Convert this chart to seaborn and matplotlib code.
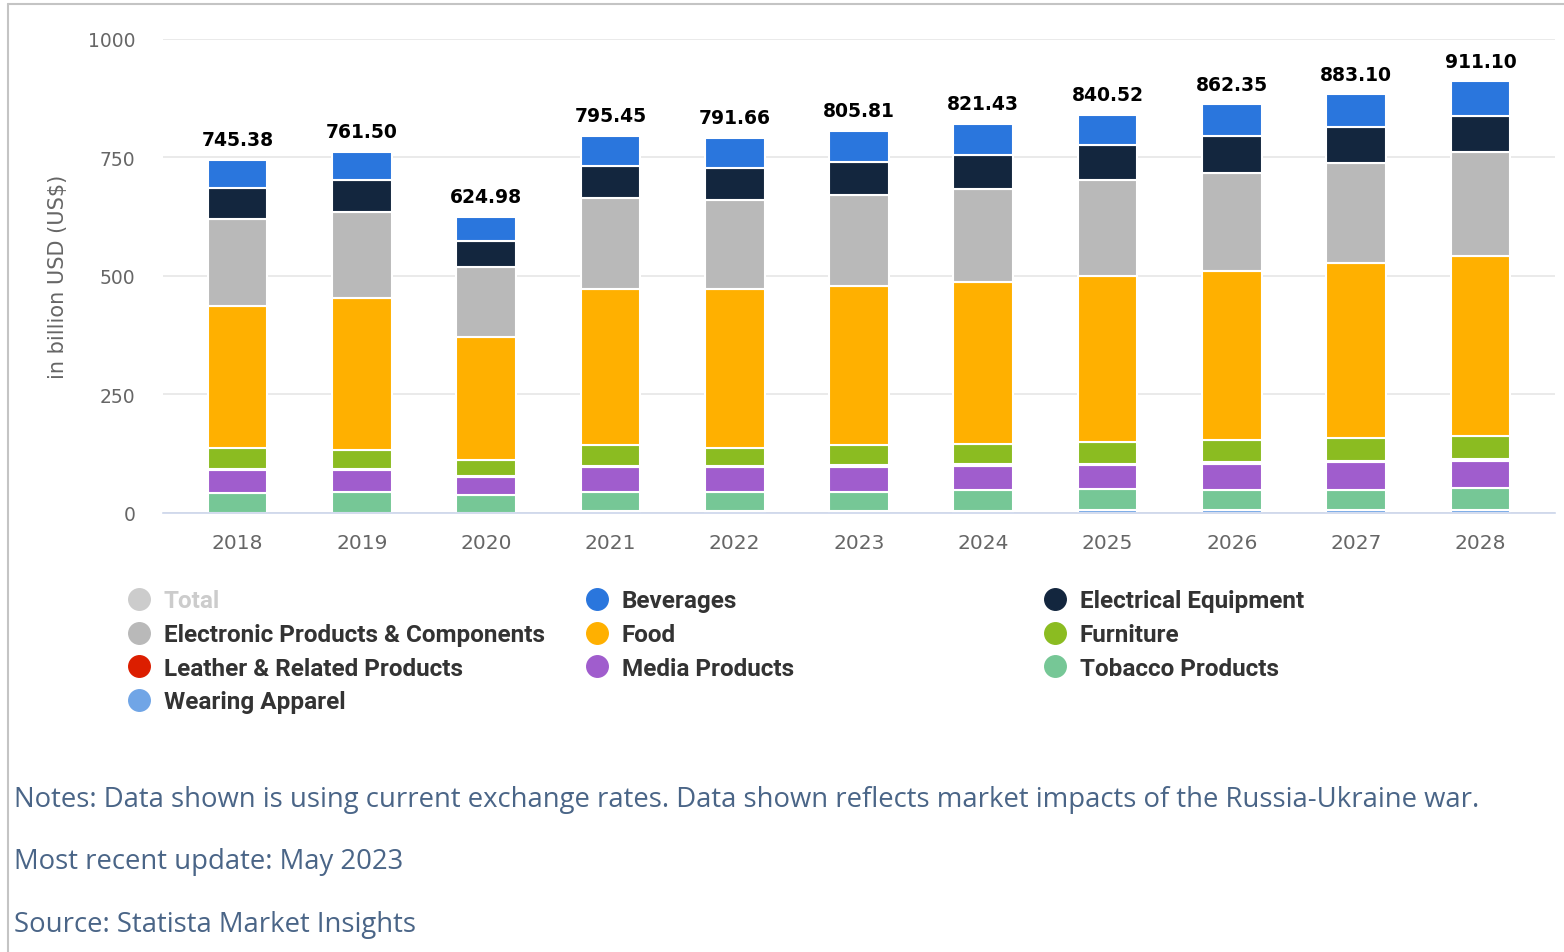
import numpy as np
import pandas as pd
import matplotlib
matplotlib.use("Agg")
import matplotlib.pyplot as plt
import seaborn as sns
from matplotlib.lines import Line2D
from matplotlib import font_manager as fm

# ---- data (billion USD) ----
years = ["2018", "2019", "2020", "2021", "2022", "2023", "2024", "2025", "2026", "2027", "2028"]
total = [745.38, 761.50, 624.98, 795.45, 791.66, 805.81, 821.43, 840.52, 862.35, 883.10, 911.10]

beverages = [59.52, 59.81, 52.13, 62.71, 63.46, 64.87, 65.38, 65.29, 66.83, 68.07, 73.18]
electrical_equipment = [66.41, 66.32, 53.62, 69.54, 68.52, 69.53, 73.74, 72.84, 77.52, 77.34, 77.53]
electronic_products = [182.63, 182.97, 148.94, 190.86, 187.38, 192.14, 194.86, 202.97, 207.64, 211.18, 218.16]
food = [301.47, 319.78, 260.27, 330.47, 335.04, 337.36, 341.75, 350.53, 357.86, 369.83, 381.04]
furniture = [42.55, 39.96, 33.41, 44.18, 39.63, 41.52, 43.57, 45.58, 46.61, 47.46, 48.77]
leather = [3.02, 2.41, 2.18, 2.43, 2.37, 5.18, 3.04, 4.03, 3.97, 3.31, 4.52]
media_products = [48.94, 47.22, 38.35, 51.57, 51.58, 51.47, 50.77, 50.04, 54.04, 57.58, 55.97]
tobacco_products = [40.84, 43.03, 36.08, 39.66, 39.64, 39.63, 44.18, 44.92, 43.56, 44.01, 47.51]
wearing_apparel = [0.0, 0.0, 0.0, 4.03, 4.04, 4.11, 4.14, 4.32, 4.32, 4.32, 4.42]

# stacking order, bottom to top
stack = [
    ("Wearing Apparel", wearing_apparel, "#70a5e6"),
    ("Tobacco Products", tobacco_products, "#76c796"),
    ("Media Products", media_products, "#a05dcd"),
    ("Leather & Related Products", leather, "#dc1e00"),
    ("Furniture", furniture, "#8bbc21"),
    ("Food", food, "#ffb000"),
    ("Electronic Products & Components", electronic_products, "#b9b9b9"),
    ("Electrical Equipment", electrical_equipment, "#13263e"),
    ("Beverages", beverages, "#2a76dd"),
]
colors = {name: c for name, _, c in stack}

# legend layout (three columns, row-major reading order)
legend_columns = [
    ["Total", "Electronic Products & Components", "Leather & Related Products", "Wearing Apparel"],
    ["Beverages", "Food", "Media Products"],
    ["Electrical Equipment", "Furniture", "Tobacco Products"],
]

notes = [
    "Notes: Data shown is using current exchange rates. Data shown reflects market impacts of the Russia-Ukraine war.",
    "Most recent update: May 2023",
    "Source: Statista Market Insights",
]

# ---- style ----
sns.set_style("white")
avail = {f.name for f in fm.fontManager.ttflist}
NARROW = next((f for f in ["Liberation Sans Narrow", "Roboto", "Lato"] if f in avail), "DejaVu Sans")
NOTE_FONT = "Open Sans" if "Open Sans" in avail else "DejaVu Sans"
plt.rcParams["font.family"] = ["DejaVu Sans"]

W, H = 1564, 953
fig = plt.figure(figsize=(W / 100, H / 100), dpi=100)
fig.patch.set_facecolor("white")

left_px, right_px, top_px, bottom_px = 163, 1555, 40, 513.5
ax = fig.add_axes([left_px / W, 1 - bottom_px / H, (right_px - left_px) / W, (bottom_px - top_px) / H])

bottom = np.zeros(len(years))
for name, values, col in stack:
    df = pd.DataFrame({"year": years, "value": values})
    sns.barplot(data=df, x="year", y="value", order=years, color=col, bottom=bottom,
                width=0.48, edgecolor="white", linewidth=1.5, errorbar=None, ax=ax,
                saturation=1)
    bottom = bottom + np.asarray(values)

# stack totals above each column
for i, t in enumerate(total):
    ax.annotate(f"{t:.2f}", xy=(i, t), xytext=(0, 10.5), textcoords="offset points",
                ha="center", va="baseline", fontsize=13.5, fontweight="bold",
                color="#000000", family="DejaVu Sans")

ax.set_xlim(-0.6, len(years) - 0.4)
ax.set_ylim(0, 1000)
ax.set_yticks([0, 250, 500, 750, 1000])
ax.yaxis.grid(True, color="#e6e6e6", linewidth=1.2)
ax.set_axisbelow(True)
for s in ["left", "right", "top"]:
    ax.spines[s].set_visible(False)
ax.spines["bottom"].set_color("#ccd6eb")
ax.spines["bottom"].set_linewidth(1.2)
ax.tick_params(axis="x", length=7, width=1, color="#ccd6eb", pad=8,
               labelsize=14.5, labelcolor="#666666")
ax.tick_params(axis="y", length=0, pad=20, labelsize=13.5, labelcolor="#666666")
ax.set_xlabel("")
ax.set_ylabel("in billion USD (US$)", fontsize=15, color="#666666", labelpad=14)

# legend, one column block at a time
fs_leg = 17.5
for col_i, names in enumerate(legend_columns):
    handles, labels = [], []
    for n in names:
        c = "#cccccc" if n == "Total" else colors[n]
        handles.append(Line2D([], [], marker="o", linestyle="", markersize=15.5,
                              markerfacecolor=c, markeredgecolor=c))
        labels.append(n)
    x0 = (126.8 + 458 * col_i) / W
    leg = fig.legend(handles, labels, loc="upper left", bbox_to_anchor=(x0, 1 - 590.5 / H),
                     frameon=False, borderpad=0, borderaxespad=0, handlelength=1.0,
                     handletextpad=0.53, labelspacing=0.435,
                     prop={"family": NARROW, "weight": "bold", "size": fs_leg})
    for txt, n in zip(leg.get_texts(), names):
        txt.set_color("#cccccc" if n == "Total" else "#333333")

# notes
for y_px, line in zip([800, 862, 925], notes):
    fig.text(14 / W, 1 - y_px / H, line, ha="left", va="center", fontsize=19.8,
             color="#4a6587", family=NOTE_FONT)

# outer frame lines
fig.add_artist(Line2D([8 / W, 8 / W], [0, 1 - 5 / H], transform=fig.transFigure,
                      color="#c4c4c4", linewidth=1.5))
fig.add_artist(Line2D([8 / W, 1], [1 - 5 / H, 1 - 5 / H], transform=fig.transFigure,
                      color="#c4c4c4", linewidth=1.5))

fig.savefig("out.png", dpi=100, facecolor="white")
